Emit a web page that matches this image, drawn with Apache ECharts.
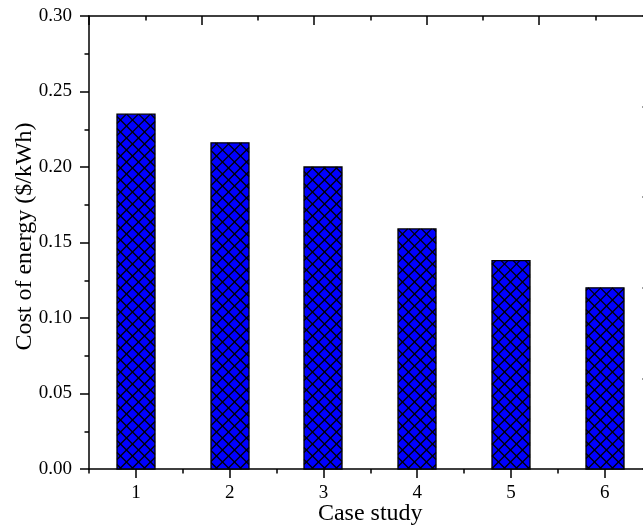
<!DOCTYPE html>
<html>
<head>
<meta charset="utf-8">
<script src="https://cdn.jsdelivr.net/npm/echarts@6/dist/echarts.min.js"></script>
<style>
html,body{margin:0;padding:0;background:#fff;}
#chart{width:643px;height:528px;}
</style>
</head>
<body>
<div id="chart"></div>
<script>
var categories = ['1', '2', '3', '4', '5', '6'];
var costValues = [0.235, 0.216, 0.200, 0.159, 0.138, 0.120];
var yTickLabels = ['0.00', '0.05', '0.10', '0.15', '0.20', '0.25', '0.30'];
var xAxisName = 'Case study';
var yAxisName = 'Cost of energy ($/kWh)';

var font = '"Liberation Serif", "Times New Roman", serif';
var chart = echarts.init(document.getElementById('chart'), null, {renderer: 'canvas'});
var axisLineStyle = {color: '#000', width: 1.5};

var barData = costValues.map(function (v, i) { return [i, v]; });

function renderHatchedBar(params, api) {
  var idx = api.value(0), val = api.value(1);
  var top = api.coord([idx, val]);
  var base = api.coord([idx, 0]);
  var w = 38, s = 12;
  var x0 = Math.round(top[0] - w / 2), x1 = x0 + w;
  var y0 = top[1], y1 = base[1];
  var children = [{
    type: 'rect',
    shape: {x: x0, y: y0, width: w, height: y1 - y0},
    style: {fill: '#0000FF', stroke: null}
  }];
  var lineStyle = {stroke: '#000', lineWidth: 1.2, fill: null};
  var k, c, xa, xb;
  // "\" lines: y = x - c
  for (k = Math.floor((x0 - y1) / s); k <= Math.ceil((x1 - y0) / s); k++) {
    c = k * s + 0.5;
    xa = Math.max(x0, y0 + c); xb = Math.min(x1, y1 + c);
    if (xb > xa) children.push({type: 'line', shape: {x1: xa, y1: xa - c, x2: xb, y2: xb - c}, style: lineStyle});
  }
  // "/" lines: y = c - x
  for (k = Math.floor((x0 + y0) / s); k <= Math.ceil((x1 + y1) / s); k++) {
    c = k * s + 0.5;
    xa = Math.max(x0, c - y1); xb = Math.min(x1, c - y0);
    if (xb > xa) children.push({type: 'line', shape: {x1: xa, y1: c - xa, x2: xb, y2: c - xb}, style: lineStyle});
  }
  children.push({
    type: 'rect',
    shape: {x: x0, y: y0, width: w, height: y1 - y0},
    style: {fill: null, stroke: '#000', lineWidth: 1.3}
  });
  return {type: 'group', children: children};
}

chart.setOption({
  animation: false,
  backgroundColor: '#fff',
  grid: {left: 89, top: 16, width: 562.5, height: 453, containLabel: false, outerBoundsMode: 'none'},
  xAxis: [
    {
      type: 'category', data: categories, position: 'bottom',
      axisLine: {show: true, lineStyle: axisLineStyle, onZero: false},
      axisTick: {show: true, alignWithLabel: true, length: 9, lineStyle: {color: '#000', width: 1.5}},
      axisLabel: {color: '#000', fontFamily: font, fontSize: 19, margin: 15},
      splitLine: {show: false},
      name: xAxisName, nameLocation: 'middle', nameGap: 33, nameMoveOverlap: false,
      nameTextStyle: {color: '#000', fontFamily: font, fontSize: 24}
    },
    {
      type: 'value', position: 'bottom', min: 0, max: 6, interval: 1,
      axisLine: {show: false, onZero: false},
      axisTick: {show: true, length: 4.5, lineStyle: {color: '#000', width: 1.5}},
      axisLabel: {show: false}, splitLine: {show: false}
    },
    {
      type: 'value', position: 'top', min: 0, max: 5, interval: 1,
      axisLine: {show: true, lineStyle: axisLineStyle, onZero: false},
      axisTick: {show: true, inside: true, length: 9, lineStyle: {color: '#000', width: 1.5}},
      minorTick: {show: true, splitNumber: 2, length: 4.5, lineStyle: {color: '#000', width: 1.5}},
      axisLabel: {show: false}, splitLine: {show: false}
    }
  ],
  yAxis: [
    {
      type: 'value', min: 0, max: 0.3, interval: 0.05, position: 'left',
      axisLine: {show: true, lineStyle: axisLineStyle, onZero: false},
      axisTick: {show: true, length: 9, lineStyle: {color: '#000', width: 1.5}},
      minorTick: {show: true, splitNumber: 2, length: 4.5, lineStyle: {color: '#000', width: 1.5}},
      axisLabel: {
        color: '#000', fontFamily: font, fontSize: 19, margin: 17,
        formatter: function (v) { return yTickLabels[Math.round(v / 0.05)]; }
      },
      splitLine: {show: false},
      name: yAxisName, nameLocation: 'middle', nameGap: 52, nameMoveOverlap: false,
      nameTextStyle: {color: '#000', fontFamily: font, fontSize: 24, padding: [0, 0, 0, 12]}
    },
    {
      type: 'value', min: 0, max: 5, interval: 1, position: 'right',
      axisLine: {show: true, lineStyle: axisLineStyle, onZero: false},
      axisTick: {show: true, inside: true, length: 9, lineStyle: {color: '#000', width: 1.5}},
      minorTick: {show: true, splitNumber: 2, length: 4.5, lineStyle: {color: '#000', width: 1.5}},
      axisLabel: {show: false}, splitLine: {show: false}
    }
  ],
  series: [{
    type: 'custom', xAxisIndex: 0, yAxisIndex: 0,
    data: barData,
    encode: {x: 0, y: 1},
    renderItem: renderHatchedBar
  }]
});
</script>
</body>
</html>
